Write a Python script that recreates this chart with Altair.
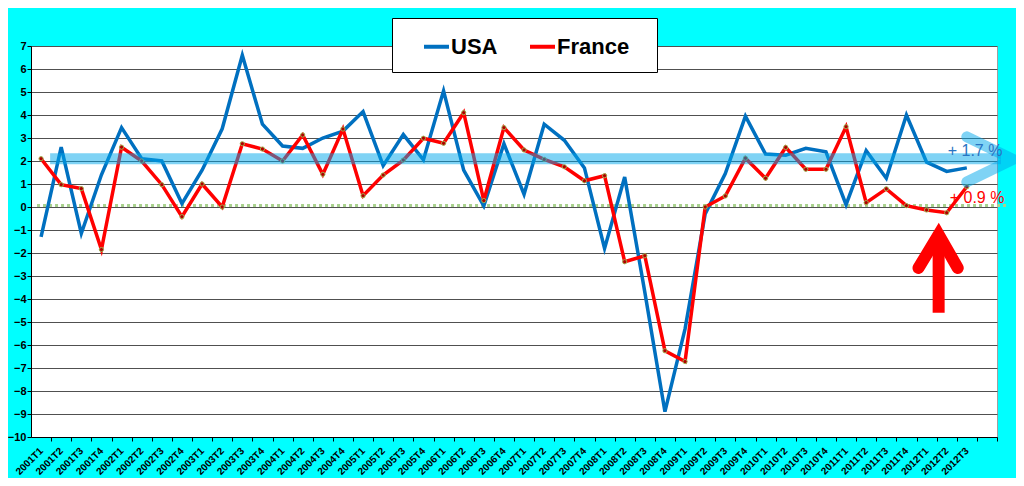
import json
import altair as alt
import pandas as pd

# ---------------- data ----------------
quarters = [
    "2001T1", "2001T2", "2001T3", "2001T4", "2002T1", "2002T2", "2002T3", "2002T4",
    "2003T1", "2003T2", "2003T3", "2003T4", "2004T1", "2004T2", "2004T3", "2004T4",
    "2005T1", "2005T2", "2005T3", "2005T4", "2006T1", "2006T2", "2006T3", "2006T4",
    "2007T1", "2007T2", "2007T3", "2007T4", "2008T1", "2008T2", "2008T3", "2008T4",
    "2009T1", "2009T2", "2009T3", "2009T4", "2010T1", "2010T2", "2010T3", "2010T4",
    "2011T1", "2011T2", "2011T3", "2011T4", "2012T1", "2012T2", "2012T3",
]
usa = [-1.3, 2.6, -1.15, 1.4, 3.45, 2.1, 2.0, 0.15,
       1.6, 3.4, 6.6, 3.6, 2.65, 2.55, 3.0, 3.3,
       4.15, 1.8, 3.15, 2.05, 5.05, 1.6, 0.05, 2.75,
       0.55, 3.6, 2.9, 1.7, -1.8, 1.3, -3.7, -8.9,
       -5.3, -0.3, 1.45, 3.95, 2.3, 2.25, 2.55, 2.4,
       0.1, 2.45, 1.25, 4.0, 1.95, 1.55, 1.7]
france = [2.1, 0.97, 0.8, -1.85, 2.6, 2.0, 0.97, -0.42,
          1.0, 0.0, 2.75, 2.52, 2.0, 3.13, 1.42, 3.39,
          0.49, 1.39, 2.04, 2.99, 2.77, 4.1, 0.28, 3.45,
          2.48, 2.07, 1.75, 1.14, 1.36, -2.38, -2.12, -6.25,
          -6.72, 0.0, 0.48, 2.12, 1.25, 2.59, 1.64, 1.64,
          3.49, 0.19, 0.79, 0.06, -0.13, -0.25, 0.88]
series_names = ["USA", "France"]
n_slots = 48  # category slots on the axis (last one unlabeled)

# annotation values (data units)
trend_level = 2.1
trend_x = [0.45, 47.7]
chevron_x = [46.0, 48.3, 46.0]
chevron_y = [3.05, 2.07, 1.09]
zero_level = 0.07
zero_x = [-0.2, 48.0]
arrow_x = 44.6
arrow_shaft_y = [-4.6, -1.4]
arrow_head_x = [43.6, 44.6, 45.55]
arrow_head_y = [-2.65, -1.2, -2.65]
label_texts = ["+ 1.7 %", "+ 0.9 %"]
label_x = [45.05, 45.15]
label_y = [2.45, 0.41]

BLUE = "#0070C0"
RED = "#FF0000"
FONT = "Liberation Sans"

# ---------------- frames ----------------
rows = []
for name, vals in zip(series_names, [usa, france]):
    for i, v in enumerate(vals):
        rows.append({"i": i, "v": v, "country": name})
df = pd.DataFrame(rows)
df_fr = df[df.country == "France"]

W, H = 966, 391
half = W / n_slots / 2

label_arr = json.dumps(quarters)
X = alt.X(
    "i:Q",
    scale=alt.Scale(domain=[-0.5, n_slots - 0.5], nice=False, zero=False),
    axis=alt.Axis(
        values=list(range(-1, n_slots)),
        tickOffset=half,
        labelOffset=-half,
        labelExpr=f"{label_arr}[datum.value] || ''",
        labelAngle=-45,
        labelAlign="right",
        labelBaseline="middle",
        labelFontSize=10,
        labelFontWeight="bold",
        labelFont=FONT,
        labelColor="black",
        labelOverlap=False,
        labelFlush=False,
        labelPadding=8,
        tickSize=4,
        tickColor="black",
        domainColor="black",
        grid=False,
        title=None,
    ),
)
Y = alt.Y(
    "v:Q",
    scale=alt.Scale(domain=[-10, 7], nice=False, zero=False),
    axis=alt.Axis(
        values=list(range(-10, 8)),
        grid=True,
        gridColor="#505050",
        gridWidth=1,
        tickSize=4,
        tickColor="black",
        domainColor="black",
        labelFontSize=11,
        labelFontWeight="bold",
        labelFont=FONT,
        labelColor="black",
        labelPadding=1,
        title=None,
    ),
)

lines = alt.Chart(df).mark_line(strokeWidth=3.5).encode(
    x=X, y=Y,
    color=alt.Color(
        "country:N",
        sort=series_names,
        scale=alt.Scale(domain=series_names, range=[BLUE, RED]),
        legend=alt.Legend(
            orient="none", legendX=361, legendY=-28, direction="horizontal",
            title="\u00a0", titleOrient="right", titlePadding=14, titleFontSize=4,
            fillColor="white", strokeColor="black", padding=14,
            symbolType="stroke", symbolSize=625, symbolStrokeWidth=4,
            symbolOffset=16, labelOffset=0,
            labelFontSize=22, labelFontWeight="bold", labelFont=FONT,
            labelColor="black", columnPadding=14,
        ),
    ),
)

points = alt.Chart(df_fr).mark_circle(
    size=18, color="#B00000", stroke="#A0B050", strokeWidth=1, opacity=1
).encode(x=X, y=Y)

zero_df = pd.DataFrame({"i": [zero_x[0]], "i2": [zero_x[1]], "v": [zero_level]})
zero_rule = alt.Chart(zero_df).mark_rule(
    strokeDash=[3, 3], strokeWidth=3, color="#A9D18E"
).encode(x=X, x2="i2:Q", y=Y)

trend_df = pd.DataFrame({"i": [trend_x[0]], "i2": [trend_x[1]], "v": [trend_level]})
trend = alt.Chart(trend_df).mark_rule(
    strokeWidth=11, color="#00A7EB", opacity=0.5, strokeCap="butt"
).encode(x=X, x2="i2:Q", y=Y)

chev_df = pd.DataFrame({"i": chevron_x, "v": chevron_y, "o": [0, 1, 2]})
chevron = alt.Chart(chev_df).mark_line(
    strokeWidth=11, color="#00A7EB", opacity=0.5, strokeCap="round", strokeJoin="miter"
).encode(x=X, y=Y, order="o:Q")

shaft_df = pd.DataFrame({"i": [arrow_x], "v": [arrow_shaft_y[0]], "v2": [arrow_shaft_y[1]]})
shaft = alt.Chart(shaft_df).mark_rule(strokeWidth=12, color=RED, strokeCap="butt").encode(
    x=X, y=Y, y2="v2:Q"
)

head_df = pd.DataFrame({"i": arrow_head_x, "v": arrow_head_y, "o": [0, 1, 2]})
head = alt.Chart(head_df).mark_line(
    strokeWidth=12, color=RED, strokeCap="round", strokeJoin="miter"
).encode(x=X, y=Y, order="o:Q")

lab_df = pd.DataFrame({"i": label_x, "v": label_y, "t": label_texts, "c": ["#2873C2", RED]})
labels = alt.Chart(lab_df).mark_text(
    align="left", baseline="middle", fontSize=16, font=FONT
).encode(x=X, y=Y, text="t:N", color=alt.Color("c:N", scale=None, legend=None))

chart = alt.layer(
    zero_rule, lines, points, trend, chevron, shaft, head, labels
).properties(
    width=W, height=H,
    autosize=alt.AutoSizeParams(type="none"),
    padding={"left": 23, "top": 38, "right": 19, "bottom": 41},
).configure(
    background="#00FFFF", font=FONT
).configure_view(
    fill="white", stroke="#A0A0A0", strokeWidth=1
)

chart.save("out.html", embed_options={"renderer": "svg", "actions": False})
